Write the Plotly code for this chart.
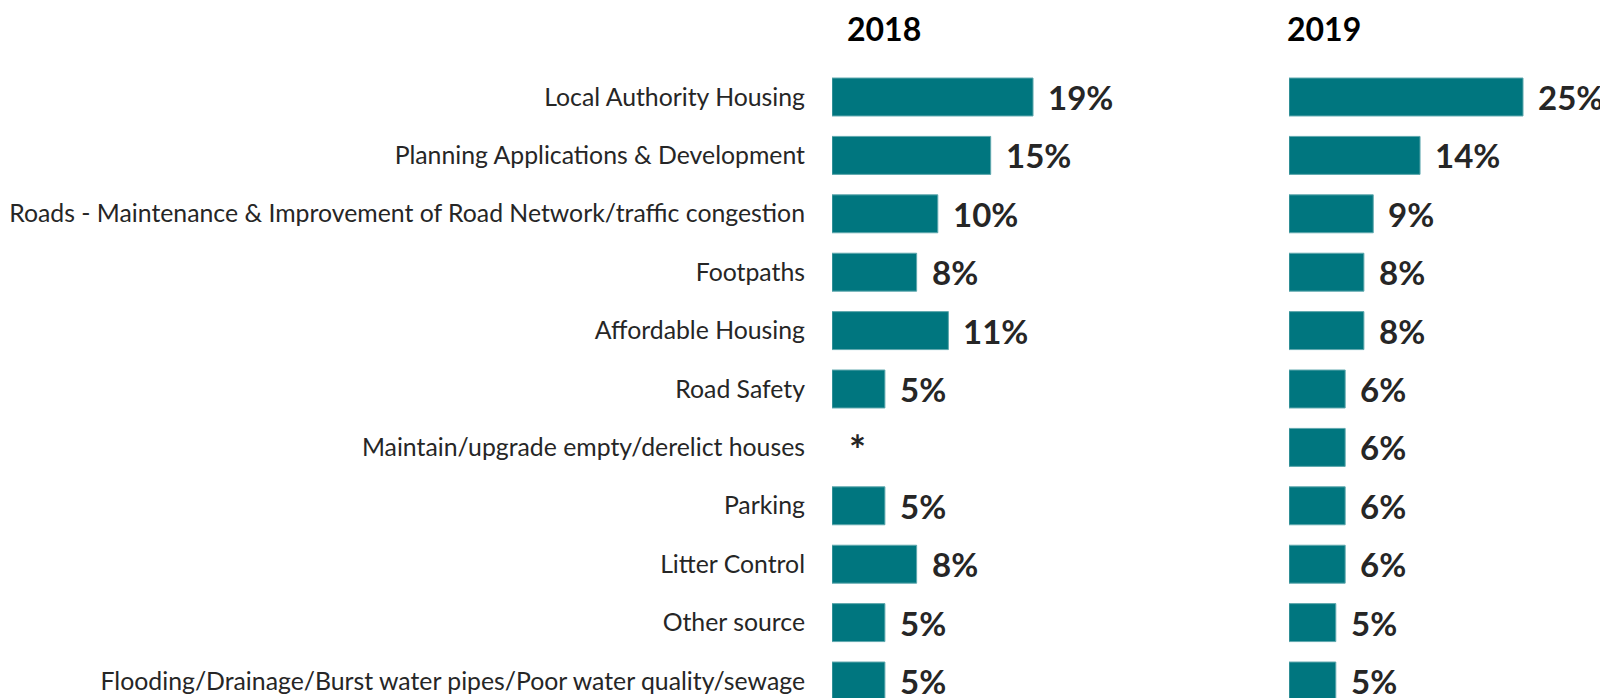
import plotly.graph_objects as go
from plotly.subplots import make_subplots

categories = [
    "Local Authority Housing",
    "Planning Applications & Development",
    "Roads - Maintenance & Improvement of Road Network/traffic congestion",
    "Footpaths",
    "Affordable Housing",
    "Road Safety",
    "Maintain/upgrade empty/derelict houses",
    "Parking",
    "Litter Control",
    "Other source",
    "Flooding/Drainage/Burst water pipes/Poor water quality/sewage",
]
values_2018 = [19, 15, 10, 8, 11, 5, None, 5, 8, 5, 5]
labels_2018 = ["19%", "15%", "10%", "8%", "11%", "5%", "*", "5%", "8%", "5%", "5%"]
values_2019 = [25, 14, 9, 8, 8, 6, 6, 6, 6, 5, 5]
labels_2019 = ["25%", "14%", "9%", "8%", "8%", "6%", "6%", "6%", "6%", "5%", "5%"]
years = ["2018", "2019"]

W, H = 1608, 698
OFF = 8  # page body margin offset
BAR = "#00767F"
TXT = "#262626"
FONT = "Lato"

fig = make_subplots(rows=1, cols=2, shared_yaxes=True, horizontal_spacing=0.02)

series = [(values_2018, labels_2018), (values_2019, labels_2019)]
for col, (vals, labs) in enumerate(series, start=1):
    fig.add_trace(go.Bar(
        y=categories, x=vals, orientation="h",
        marker=dict(color=BAR, line=dict(color="#5FA8AE", width=1)),
        showlegend=False, hoverinfo="skip",
    ), row=1, col=col)
    xr = "x" if col == 1 else "x2"
    yr = "y" if col == 1 else "y2"
    for cat, v, lab in zip(categories, vals, labs):
        missing = v is None
        fig.add_annotation(
            x=0 if missing else v, y=cat, xref=xr, yref=yr,
            text=lab, showarrow=False, xanchor="left", yanchor="middle",
            xshift=15 if missing else 13, yshift=-3 if missing else 0,
            font=dict(family=FONT, size=40 if missing else 33, color=TXT, weight="bold"),
        )

row_px = 58.4
top = -(97 - OFF) / row_px
bottom = top + H / row_px

fig.update_layout(
    width=W, height=H,
    margin=dict(l=0, r=0, t=0, b=0),
    plot_bgcolor="white", paper_bgcolor="white",
    bargap=0.35,
    xaxis=dict(domain=[(832 - OFF) / W, 1200 / W], range=[0, (1200 - 832 + OFF) / 10.58],
               visible=False, automargin=False),
    xaxis2=dict(domain=[(1289 - OFF) / W, 1.0], range=[0, (W - 1289 + OFF) / 9.36],
                visible=False, automargin=False),
    yaxis=dict(range=[bottom, top], showgrid=False, zeroline=False, showline=False,
               ticks="", ticklabelstandoff=26, automargin=False,
               tickfont=dict(family=FONT, size=24.8, color=TXT)),
    yaxis2=dict(range=[bottom, top], showgrid=False, zeroline=False, showline=False,
                showticklabels=False, automargin=False),
)

for x_px, year in zip([884, 1324], years):
    fig.add_annotation(x=(x_px - OFF) / W, y=1 - (28 - OFF) / H, xref="paper", yref="paper",
                       text=year, showarrow=False, xanchor="center", yanchor="middle",
                       font=dict(family=FONT, size=32, color="black", weight="bold"))

fig.write_html("out.html")
